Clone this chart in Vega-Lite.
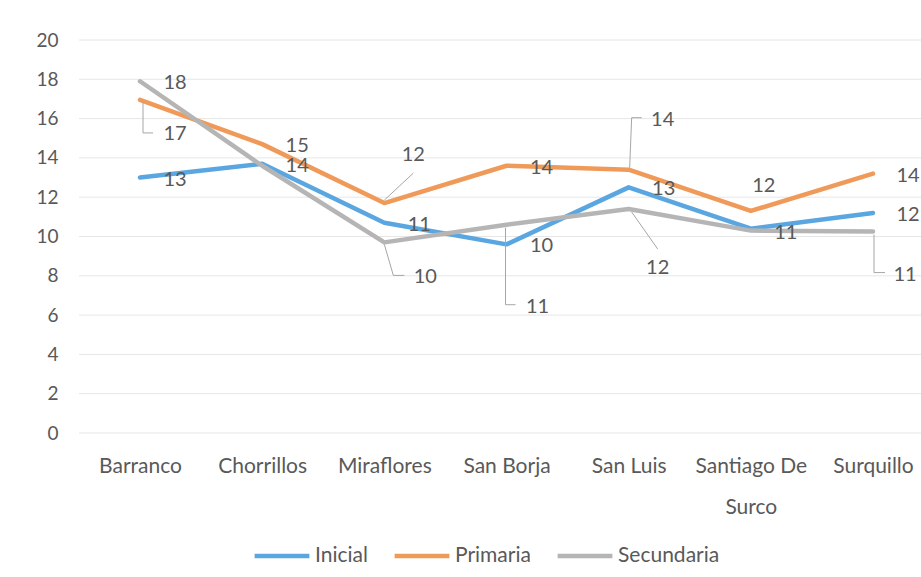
{
  "$schema": "https://vega.github.io/schema/vega-lite/v6.json",
  "width": 842,
  "height": 393,
  "autosize": "none",
  "padding": {"left": 79, "top": 40, "right": 0, "bottom": 144},
  "background": "#ffffff",
  "config": {
    "view": {"stroke": null},
    "font": "Lato",
    "text": {"font": "Lato", "fontSize": 20, "color": "#595959"}
  },
  "data": {
    "values": [
      {"distrito": "Barranco", "serie": "Inicial", "valor": 13.0, "etiqueta": "13"},
      {"distrito": "Chorrillos", "serie": "Inicial", "valor": 13.7, "etiqueta": "14"},
      {"distrito": "Miraflores", "serie": "Inicial", "valor": 10.7, "etiqueta": "11"},
      {"distrito": "San Borja", "serie": "Inicial", "valor": 9.6, "etiqueta": "10"},
      {"distrito": "San Luis", "serie": "Inicial", "valor": 12.5, "etiqueta": "13"},
      {"distrito": "Santiago De Surco", "serie": "Inicial", "valor": 10.4, "etiqueta": null},
      {"distrito": "Surquillo", "serie": "Inicial", "valor": 11.2, "etiqueta": "12"},
      {"distrito": "Barranco", "serie": "Primaria", "valor": 16.95, "etiqueta": "17"},
      {"distrito": "Chorrillos", "serie": "Primaria", "valor": 14.7, "etiqueta": "15"},
      {"distrito": "Miraflores", "serie": "Primaria", "valor": 11.7, "etiqueta": "12"},
      {"distrito": "San Borja", "serie": "Primaria", "valor": 13.6, "etiqueta": "14"},
      {"distrito": "San Luis", "serie": "Primaria", "valor": 13.4, "etiqueta": "14"},
      {"distrito": "Santiago De Surco", "serie": "Primaria", "valor": 11.3, "etiqueta": "12"},
      {"distrito": "Surquillo", "serie": "Primaria", "valor": 13.2, "etiqueta": "14"},
      {"distrito": "Barranco", "serie": "Secundaria", "valor": 17.9, "etiqueta": "18"},
      {"distrito": "Chorrillos", "serie": "Secundaria", "valor": 13.6, "etiqueta": null},
      {"distrito": "Miraflores", "serie": "Secundaria", "valor": 9.7, "etiqueta": "10"},
      {"distrito": "San Borja", "serie": "Secundaria", "valor": 10.6, "etiqueta": "11"},
      {"distrito": "San Luis", "serie": "Secundaria", "valor": 11.4, "etiqueta": "12"},
      {"distrito": "Santiago De Surco", "serie": "Secundaria", "valor": 10.3, "etiqueta": "11"},
      {"distrito": "Surquillo", "serie": "Secundaria", "valor": 10.25, "etiqueta": "11"}
    ]
  },
  "layer": [
    {
      "data": {"values": [{"g": 0}, {"g": 2}, {"g": 4}, {"g": 6}, {"g": 8}, {"g": 10}, {"g": 12}, {"g": 14}, {"g": 16}, {"g": 18}, {"g": 20}]},
      "mark": {"type": "rule", "color": "#e6e6e6", "strokeWidth": 1},
      "encoding": {
        "y": {
          "field": "g", "type": "quantitative", "scale": {"domain": [0, 20], "nice": false},
          "axis": {
            "title": null, "domain": false, "ticks": false, "grid": false,
            "values": [0, 2, 4, 6, 8, 10, 12, 14, 16, 18, 20], "labelOverlap": false,
            "labelFont": "Lato", "labelFontSize": 19, "labelColor": "#595959", "labelPadding": 21
          }
        }
      }
    },
    {
      "encoding": {
        "x": {
          "field": "distrito", "type": "nominal", "sort": null,
          "scale": {"type": "point", "range": [61, 794], "padding": 0},
          "axis": {
            "title": null, "domain": false, "ticks": false, "grid": false,
            "labelAngle": 0, "labelFont": "Lato", "labelFontSize": 21, "labelColor": "#595959",
            "labelPadding": 22, "labelLineHeight": 41, "labelOverlap": false,
            "labelExpr": "datum.label == 'Santiago De Surco' ? ['Santiago De', 'Surco'] : datum.label"
          }
        },
        "y": {
          "field": "valor", "type": "quantitative",
          "scale": {"domain": [0, 20], "nice": false},
          "axis": {
            "title": null, "domain": false, "ticks": false, "grid": false,
            "values": [0, 2, 4, 6, 8, 10, 12, 14, 16, 18, 20], "labelOverlap": false,
            "labelFont": "Lato", "labelFontSize": 19, "labelColor": "#595959", "labelPadding": 21
          }
        }
      },
      "layer": [
        {
          "mark": {"type": "line", "strokeWidth": 4.5, "strokeJoin": "round", "strokeCap": "round"},
          "encoding": {
            "color": {
              "field": "serie", "type": "nominal",
              "scale": {"domain": ["Inicial", "Primaria", "Secundaria"], "range": ["#5aa6e0", "#f09a5a", "#b5b5b5"]},
              "legend": {
                "title": null, "orient": "none", "direction": "horizontal",
                "legendX": 173, "legendY": 486,
                "symbolType": "stroke", "symbolSize": 3000, "symbolStrokeWidth": 4.5,
                "labelFont": "Lato", "labelFontSize": 21, "labelColor": "#595959",
                "labelOffset": 3, "columnPadding": 17
              }
            }
          }
        },
        {
          "transform": [{"filter": "datum.serie == 'Primaria' && datum.distrito == 'Barranco'"}],
          "layer": [
            {"mark": {"type": "rule", "color": "#a6a6a6", "strokeWidth": 1, "xOffset": 3, "yOffset": 2, "x2Offset": 3, "y2Offset": 33}, "encoding": {"x2": {"field": "distrito"}, "y2": {"field": "valor"}}},
            {"mark": {"type": "rule", "color": "#a6a6a6", "strokeWidth": 1, "xOffset": 3, "yOffset": 33, "x2Offset": 13, "y2Offset": 33}, "encoding": {"x2": {"field": "distrito"}, "y2": {"field": "valor"}}},
            {"mark": {"type": "text", "dx": 35, "dy": 34}, "encoding": {"text": {"field": "etiqueta"}}}
          ]
        },
        {
          "transform": [{"filter": "datum.serie == 'Primaria' && datum.distrito == 'Miraflores'"}],
          "layer": [
            {"mark": {"type": "rule", "color": "#a6a6a6", "strokeWidth": 1, "xOffset": 0, "yOffset": -3, "x2Offset": 29, "y2Offset": -30}, "encoding": {"x2": {"field": "distrito"}, "y2": {"field": "valor"}}},
            {"mark": {"type": "text", "dx": 29, "dy": -48}, "encoding": {"text": {"field": "etiqueta"}}}
          ]
        },
        {
          "transform": [{"filter": "datum.serie == 'Secundaria' && datum.distrito == 'Miraflores'"}],
          "layer": [
            {"mark": {"type": "rule", "color": "#a6a6a6", "strokeWidth": 1, "xOffset": 0, "yOffset": 2, "x2Offset": 9, "y2Offset": 33}, "encoding": {"x2": {"field": "distrito"}, "y2": {"field": "valor"}}},
            {"mark": {"type": "rule", "color": "#a6a6a6", "strokeWidth": 1, "xOffset": 9, "yOffset": 33, "x2Offset": 20, "y2Offset": 33}, "encoding": {"x2": {"field": "distrito"}, "y2": {"field": "valor"}}},
            {"mark": {"type": "text", "dx": 41, "dy": 35}, "encoding": {"text": {"field": "etiqueta"}}}
          ]
        },
        {
          "transform": [{"filter": "datum.serie == 'Secundaria' && datum.distrito == 'San Borja'"}],
          "layer": [
            {"mark": {"type": "rule", "color": "#a6a6a6", "strokeWidth": 1, "xOffset": -1, "yOffset": 3, "x2Offset": -1, "y2Offset": 80}, "encoding": {"x2": {"field": "distrito"}, "y2": {"field": "valor"}}},
            {"mark": {"type": "rule", "color": "#a6a6a6", "strokeWidth": 1, "xOffset": -1, "yOffset": 80, "x2Offset": 9, "y2Offset": 80}, "encoding": {"x2": {"field": "distrito"}, "y2": {"field": "valor"}}},
            {"mark": {"type": "text", "dx": 31, "dy": 82}, "encoding": {"text": {"field": "etiqueta"}}}
          ]
        },
        {
          "transform": [{"filter": "datum.serie == 'Primaria' && datum.distrito == 'San Luis'"}],
          "layer": [
            {"mark": {"type": "rule", "color": "#a6a6a6", "strokeWidth": 1, "xOffset": 1, "yOffset": -2, "x2Offset": 3, "y2Offset": -52}, "encoding": {"x2": {"field": "distrito"}, "y2": {"field": "valor"}}},
            {"mark": {"type": "rule", "color": "#a6a6a6", "strokeWidth": 1, "xOffset": 3, "yOffset": -52, "x2Offset": 13, "y2Offset": -52}, "encoding": {"x2": {"field": "distrito"}, "y2": {"field": "valor"}}},
            {"mark": {"type": "text", "dx": 34, "dy": -50}, "encoding": {"text": {"field": "etiqueta"}}}
          ]
        },
        {
          "transform": [{"filter": "datum.serie == 'Secundaria' && datum.distrito == 'San Luis'"}],
          "layer": [
            {"mark": {"type": "rule", "color": "#a6a6a6", "strokeWidth": 1, "xOffset": 3, "yOffset": 3, "x2Offset": 29, "y2Offset": 40}, "encoding": {"x2": {"field": "distrito"}, "y2": {"field": "valor"}}},
            {"mark": {"type": "text", "dx": 29, "dy": 59}, "encoding": {"text": {"field": "etiqueta"}}}
          ]
        },
        {
          "transform": [{"filter": "datum.serie == 'Primaria' && datum.distrito == 'Santiago De Surco'"}],
          "mark": {"type": "text", "dx": 13, "dy": -25},
          "encoding": {"text": {"field": "etiqueta"}}
        },
        {
          "transform": [{"filter": "datum.serie == 'Secundaria' && datum.distrito == 'Surquillo'"}],
          "layer": [
            {"mark": {"type": "rule", "color": "#a6a6a6", "strokeWidth": 1, "xOffset": 1, "yOffset": 3, "x2Offset": 1, "y2Offset": 41}, "encoding": {"x2": {"field": "distrito"}, "y2": {"field": "valor"}}},
            {"mark": {"type": "rule", "color": "#a6a6a6", "strokeWidth": 1, "xOffset": 1, "yOffset": 41, "x2Offset": 12, "y2Offset": 41}, "encoding": {"x2": {"field": "distrito"}, "y2": {"field": "valor"}}},
            {"mark": {"type": "text", "dx": 32, "dy": 43}, "encoding": {"text": {"field": "etiqueta"}}}
          ]
        },
        {
          "transform": [{"filter": "datum.etiqueta != null && indexof(['Barranco|Primaria', 'Miraflores|Primaria', 'Miraflores|Secundaria', 'San Borja|Secundaria', 'San Luis|Primaria', 'San Luis|Secundaria', 'Santiago De Surco|Primaria', 'Surquillo|Secundaria'], datum.distrito + '|' + datum.serie) < 0"}],
          "mark": {"type": "text", "dx": 35, "dy": 2},
          "encoding": {"text": {"field": "etiqueta"}}
        }
      ]
    }
  ]
}
